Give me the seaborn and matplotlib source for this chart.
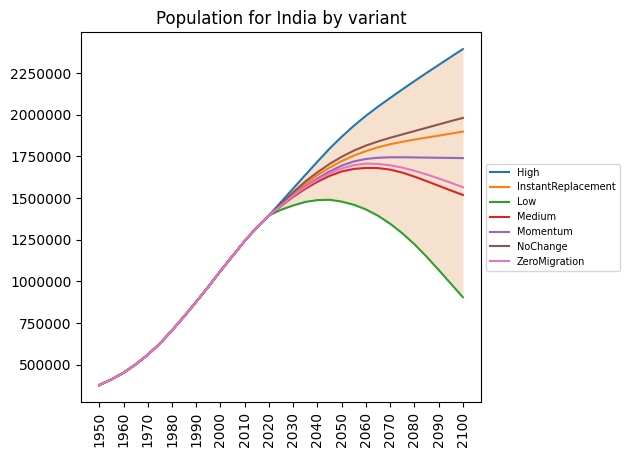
import numpy as np
import pandas as pd
import matplotlib
matplotlib.use("Agg")
import matplotlib.pyplot as plt
import seaborn as sns

# population in thousands
years = list(range(1950, 2101, 5))

history = [378000, 412000, 452000, 502000, 560000, 627000, 706000, 790000,
           878000, 968000, 1063000, 1153000, 1243000, 1324000, 1396000]

high = [1477000, 1558000, 1639000, 1719000, 1797000, 1868000, 1934000, 1994000,
        2049000, 2101000, 2152000, 2202000, 2251000, 2299000, 2347000, 2394000]
instant_replacement = [1460000, 1525000, 1585000, 1638000, 1683000, 1722000, 1755000, 1782000,
                       1805000, 1823000, 1838000, 1851000, 1863000, 1875000, 1887000, 1899000]
low = [1430000, 1456000, 1477000, 1488000, 1490000, 1479000, 1460000, 1432000,
       1394000, 1346000, 1289000, 1223000, 1149000, 1069000, 987000, 905000]
medium = [1452000, 1508000, 1556000, 1598000, 1633000, 1660000, 1675000, 1681000,
          1680000, 1671000, 1653000, 1629000, 1602000, 1574000, 1546000, 1519000]
momentum = [1455000, 1515000, 1570000, 1618000, 1660000, 1695000, 1720000, 1735000,
            1742000, 1745000, 1745000, 1744000, 1743000, 1742000, 1741000, 1740000]
no_change = [1465000, 1535000, 1600000, 1655000, 1705000, 1748000, 1785000, 1815000,
             1840000, 1862000, 1882000, 1902000, 1922000, 1942000, 1962000, 1981000]
zero_migration = [1455000, 1515000, 1565000, 1610000, 1648000, 1678000, 1698000, 1707000,
                  1705000, 1697000, 1683000, 1664000, 1642000, 1618000, 1592000, 1565000]

variants = {
    'High': high,
    'InstantReplacement': instant_replacement,
    'Low': low,
    'Medium': medium,
    'Momentum': momentum,
    'NoChange': no_change,
    'ZeroMigration': zero_migration,
}

rows = []
for name, proj in variants.items():
    for yr, val in zip(years, history + proj):
        rows.append({'year': yr, 'population': val, 'variant': name})
df = pd.DataFrame(rows)

fig, ax = plt.subplots(figsize=(6.4, 4.8), dpi=100)
fig.subplots_adjust(right=0.75)

# band between the Low and High variants
lo = df[df['variant'] == 'Low'].sort_values('year')
hi = df[df['variant'] == 'High'].sort_values('year')
ax.fill_between(lo['year'].values, lo['population'].values, hi['population'].values,
                color='#f5e1cd', linewidth=0)

sns.lineplot(data=df, x='year', y='population', hue='variant',
             palette='tab10', ax=ax, linewidth=1.5)

ax.set_xticks(list(range(1950, 2101, 10)))
ax.tick_params(axis='x', labelrotation=90)
ax.ticklabel_format(style='plain', axis='y')
ax.set_xlabel('')
ax.set_ylabel('')
ax.set_title('Population for India by variant')

handles, labels = ax.get_legend_handles_labels()
ax.legend(handles, labels, loc='center left', bbox_to_anchor=(1, 0.5), fontsize=7)

plt.savefig('out.png', dpi=100, bbox_inches='tight')
plt.close()
